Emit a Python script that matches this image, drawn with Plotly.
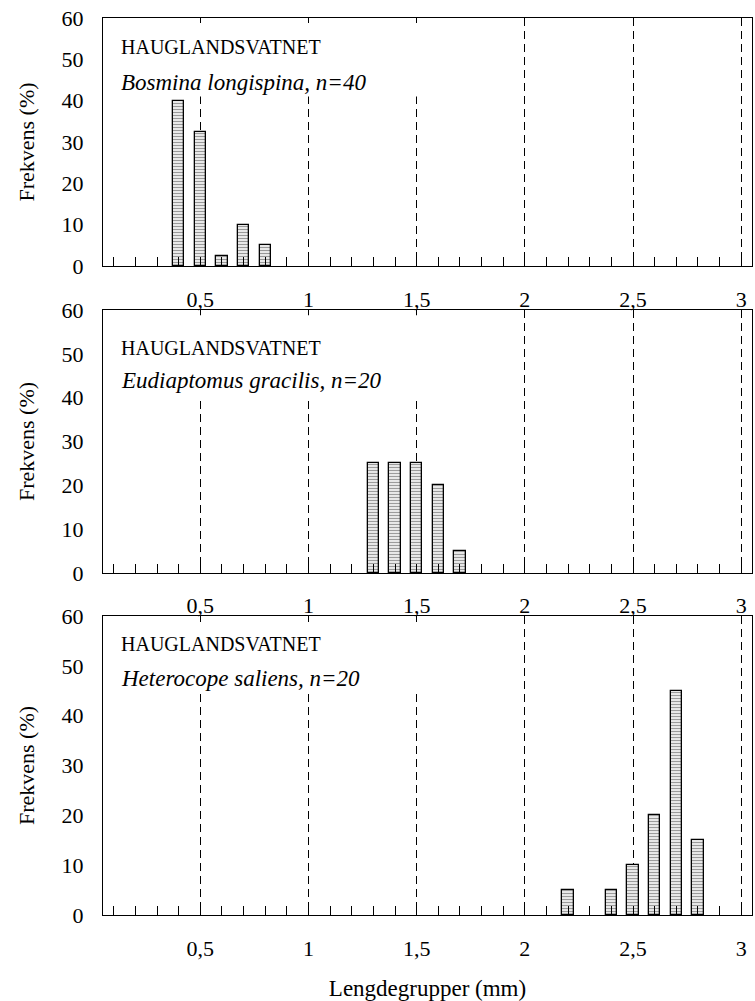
import plotly.graph_objects as go
from plotly.subplots import make_subplots

# Length-frequency data (length group in mm, frequency in %)
lake = "HAUGLANDSVATNET"

bosmina_len = [0.4, 0.5, 0.6, 0.7, 0.8]
bosmina_pct = [40, 32.5, 2.5, 10, 5]

eudiaptomus_len = [1.3, 1.4, 1.5, 1.6, 1.7]
eudiaptomus_pct = [25, 25, 25, 20, 5]

heterocope_len = [2.2, 2.4, 2.5, 2.6, 2.7, 2.8]
heterocope_pct = [5, 5, 10, 20, 45, 15]

species_labels = [
    "Bosmina longispina, n=40",
    "Eudiaptomus gracilis, n=20",
    "Heterocope saliens, n=20",
]

x_tickvals = [0.5, 1.0, 1.5, 2.0, 2.5, 3.0]
x_ticktext = ["0,5", "1", "1,5", "2", "2,5", "3"]
y_tickvals = [0, 10, 20, 30, 40, 50, 60]

FONT = "Liberation Serif, Times New Roman, serif"

fig = make_subplots(rows=3, cols=1, vertical_spacing=0.05)

series = [
    (bosmina_len, bosmina_pct),
    (eudiaptomus_len, eudiaptomus_pct),
    (heterocope_len, heterocope_pct),
]

for i, (xs, ys) in enumerate(series, start=1):
    fig.add_trace(
        go.Bar(
            x=xs,
            y=ys,
            width=0.052,
            marker=dict(
                color="#e4e4e4",
                line=dict(color="black", width=1.3),
                pattern=dict(shape="-", size=3, solidity=0.35,
                             fgcolor="#4a4a4a", bgcolor="#e8e8e8"),
            ),
            showlegend=False,
        ),
        row=i, col=1,
    )

# Panel positions (paper fractions)
domains = [[0.7235, 1.0], [0.3813, 0.6745], [0.0, 0.3333]]
# Text rows (y in data units) and white box under the heading
head_y = [(53.0, 44.5), (51.3, 44.0), (54.4, 47.4)]
box_bottom = [41.0, 39.5, 44.5]

for i in range(3):
    xa = "xaxis" if i == 0 else f"xaxis{i+1}"
    ya = "yaxis" if i == 0 else f"yaxis{i+1}"
    xr = "x" if i == 0 else f"x{i+1}"
    yr = "y" if i == 0 else f"y{i+1}"
    fig.layout[ya].domain = domains[i]
    fig.layout[xa].update(
        range=[0.05, 3.05],
        tickvals=x_tickvals,
        ticktext=x_ticktext,
        ticks="inside",
        ticklen=9,
        tickcolor="black",
        tickwidth=1,
        showgrid=True,
        gridcolor="black",
        gridwidth=1,
        griddash="8px,5px",
        minor=dict(ticks="inside", tick0=0, dtick=0.1, ticklen=9,
                   tickcolor="black", tickwidth=1, showgrid=False),
        showline=True,
        linecolor="black",
        linewidth=1.2,
        mirror=True,
        zeroline=False,
        ticklabelstandoff=13,
        tickfont=dict(family=FONT, size=22, color="black"),
    )
    fig.layout[ya].update(
        range=[0, 60],
        tickvals=y_tickvals,
        ticks="",
        showgrid=False,
        zeroline=False,
        showline=True,
        linecolor="black",
        linewidth=1.2,
        mirror=True,
        ticklabelstandoff=14,
        tickfont=dict(family=FONT, size=22, color="black"),
        title=dict(text="Frekvens (%)", standoff=20,
                   font=dict(family=FONT, size=22, color="black")),
    )
    # White backing behind the heading, hiding the dashed grid
    fig.add_shape(
        type="rect", xref=xr, yref=yr,
        x0=0.06, x1=1.7, y0=box_bottom[i], y1=58.8,
        fillcolor="white", line=dict(width=0), layer="between",
    )
    fig.add_annotation(
        xref=xr, yref=yr, x=0.125, y=head_y[i][0],
        text=lake, showarrow=False, xanchor="left", yanchor="middle",
        font=dict(family=FONT, size=20, color="black"),
    )
    fig.add_annotation(
        xref=xr, yref=yr, x=0.125, y=head_y[i][1],
        text=f"<i>{species_labels[i]}</i>", showarrow=False,
        xanchor="left", yanchor="middle",
        font=dict(family=FONT, size=23, color="black"),
    )

fig.layout.xaxis3.title = dict(text="Lengdegrupper (mm)", standoff=20,
                               font=dict(family=FONT, size=23, color="black"))

fig.update_layout(
    width=755,
    height=1001,
    margin=dict(l=103, r=3, t=18, b=86),
    paper_bgcolor="white",
    plot_bgcolor="white",
    bargap=0,
    font=dict(family=FONT, size=22, color="black"),
)

fig.write_html("out.html")
